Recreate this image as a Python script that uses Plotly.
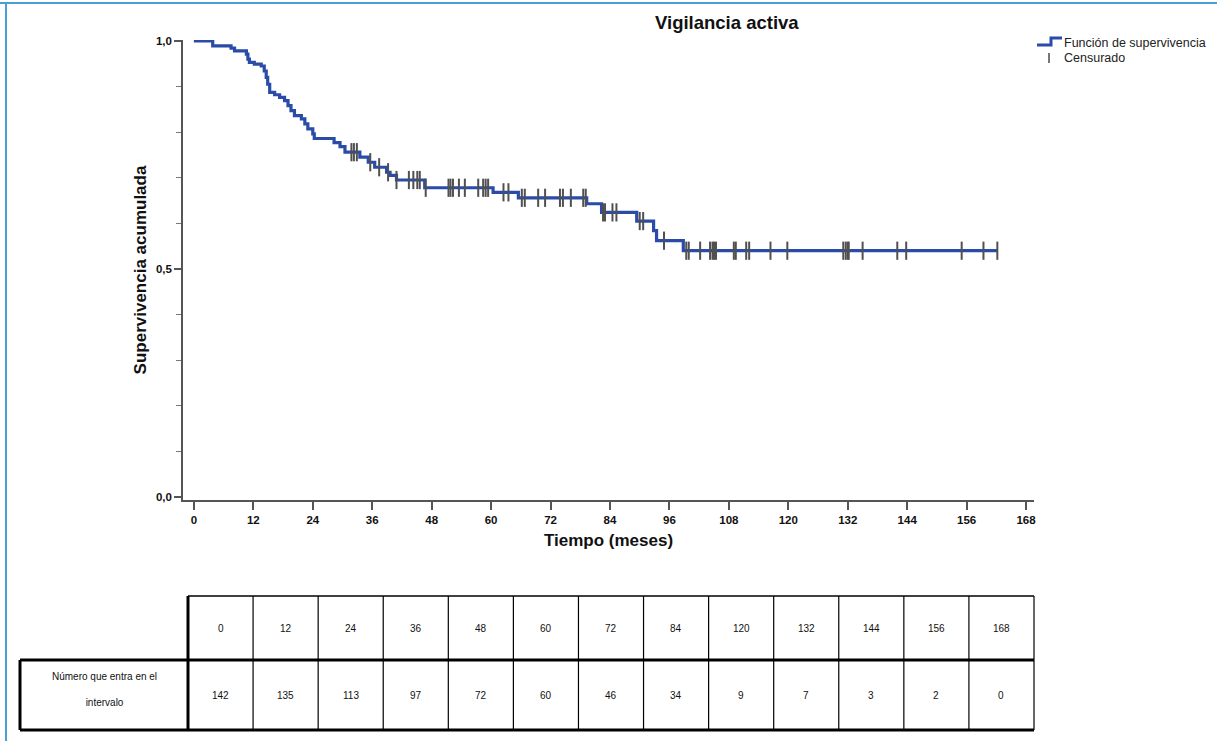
import plotly.graph_objects as go
import numpy as np

# ---------------- data ----------------
event_times = [0, 3.8, 7.5, 8.2, 10.6, 10.9, 11.2, 12.2, 13.6, 14.2, 14.6, 14.9, 15.3,
               16.3, 17.3, 18.3, 19.0, 19.6, 20.3, 21.7, 22.4, 23.0, 24.0, 24.3, 28.3,
               29.5, 30.5, 33.5, 35.2, 36.5, 38.9, 39.6, 40.9, 46.6, 60.4, 65.5, 79.3,
               82.3, 89.4, 92.8, 93.4, 98.8]
survival = [1.0, 0.989, 0.984, 0.978, 0.971, 0.960, 0.953, 0.949, 0.945, 0.934, 0.920,
            0.905, 0.887, 0.882, 0.876, 0.869, 0.858, 0.847, 0.836, 0.829, 0.818, 0.807,
            0.796, 0.786, 0.777, 0.768, 0.756, 0.745, 0.734, 0.723, 0.712, 0.705, 0.695,
            0.678, 0.668, 0.656, 0.643, 0.624, 0.605, 0.584, 0.562, 0.540]
end_time = 162.2

censor_times = [31.8, 32.3, 32.9, 35.6, 37.4, 39.2, 40.9, 43.4, 44.3, 45.1, 45.6, 46.8,
                51.4, 51.8, 52.3, 53.5, 54.7, 57.4, 58.4, 58.9, 59.4, 62.5, 63.5, 66.2,
                66.8, 69.5, 70.9, 73.9, 74.5, 76.1, 78.6, 79.1, 82.6, 83.0, 84.5, 85.3,
                90.0, 90.7, 94.9, 99.4, 99.9, 102.2, 104.2, 104.7, 105.0, 105.4, 109.0,
                109.4, 111.5, 112.1, 116.4, 119.8, 131.1, 131.6, 132.0, 132.2, 135.0,
                142.0, 143.8, 155.0, 159.4, 162.2]

x_ticks = list(range(0, 169, 12))
y_tickvals = [0.0, 0.5, 1.0]
y_ticktext = ["0,0", "0,5", "1,0"]

table_times = ["0", "12", "24", "36", "48", "60", "72", "84", "120", "132", "144", "156", "168"]
table_numbers = ["142", "135", "113", "97", "72", "60", "46", "34", "9", "7", "3", "2", "0"]
row_label = "Número que entra en el<br> <br>intervalo"

title_text = "Vigilancia activa"
legend_labels = ["Función de supervivencia", "Censurado"]

# ---------------- figure ----------------
W, H = 1217, 741
ML, MR, MT, MB = 183, 183, 40, 241
PW, PH = W - ML - MR, H - MT - MB

def px(x):
    return (x - ML) / PW

def py(y):
    return (MT + PH - y) / PH

FONT = "Arial, Liberation Sans, sans-serif"
BLUE = "#2b4ba8"

step_x = event_times + [end_time]
step_y = survival + [survival[-1]]

def surv_at(t):
    idx = np.searchsorted(np.array(event_times), t, side="right") - 1
    return survival[idx]

censor_y = [surv_at(t) for t in censor_times]

fig = go.Figure()
fig.add_trace(go.Scatter(x=step_x, y=step_y, mode="lines", line_shape="hv",
                         line=dict(color=BLUE, width=3.2), showlegend=False,
                         hoverinfo="skip"))
fig.add_trace(go.Scatter(x=censor_times, y=censor_y, mode="markers",
                         marker=dict(symbol="line-ns", size=13,
                                     line=dict(color="#505050", width=2)),
                         showlegend=False, hoverinfo="skip"))

fig.update_layout(
    width=W, height=H,
    margin=dict(l=ML, r=MR, t=MT, b=MB),
    paper_bgcolor="white", plot_bgcolor="white",
    font=dict(family=FONT, color="#111"),
    showlegend=False,
    xaxis=dict(range=[-2.2, 169.6], tickvals=x_ticks, ticks="outside", ticklen=8,
               tickwidth=1.5, tickcolor="#555", showline=True, linecolor="#555",
               linewidth=1.5, showgrid=False, zeroline=False,
               tickfont=dict(size=11.5, family=FONT, color="#111", weight="bold"),
               title=dict(text="<b>Tiempo (meses)</b>", font=dict(size=17, family=FONT, color="#111"),
                          standoff=10)),
    yaxis=dict(range=[-0.0066, 1.002], tickvals=y_tickvals, ticktext=y_ticktext,
               ticks="outside", ticklen=7, tickwidth=1.5, tickcolor="#555",
               showline=True, linecolor="#555", linewidth=1.5, showgrid=False,
               zeroline=False,
               minor=dict(dtick=0.1, tick0=0, ticks="outside", ticklen=5,
                          tickwidth=1.2, tickcolor="#777", showgrid=False),
               tickfont=dict(size=11.5, family=FONT, color="#111", weight="bold"),
               title=dict(text="<b>Supervivencia acumulada</b>",
                          font=dict(size=17, family=FONT, color="#111"), standoff=5)),
)

shapes = []
annotations = []

# title
annotations.append(dict(x=px(727), y=py(22), xref="paper", yref="paper",
                        text="<b>" + title_text + "</b>", showarrow=False,
                        font=dict(size=18.5, family=FONT, color="#111"),
                        xanchor="center", yanchor="middle"))

# legend
shapes.append(dict(type="path", xref="paper", yref="paper",
                   path=f"M {px(1037)} {py(45)} L {px(1051)} {py(45)} L {px(1051)} {py(38)} L {px(1062)} {py(38)}",
                   line=dict(color=BLUE, width=3)))
shapes.append(dict(type="line", xref="paper", yref="paper",
                   x0=px(1049), x1=px(1049), y0=py(53), y1=py(63),
                   line=dict(color="#4a4a4a", width=1.5)))
annotations.append(dict(x=px(1062), y=py(43), xref="paper", yref="paper",
                        text=legend_labels[0], showarrow=False,
                        font=dict(size=12.5, family=FONT, color="#222"),
                        xanchor="left", yanchor="middle"))
annotations.append(dict(x=px(1062), y=py(58), xref="paper", yref="paper",
                        text=legend_labels[1], showarrow=False,
                        font=dict(size=12.5, family=FONT, color="#222"),
                        xanchor="left", yanchor="middle"))

# table
T_left, T_right = 188, 1034
n = len(table_times)
col_w = (T_right - T_left) / n
r1_top, r_mid, r2_bot = 596, 660, 730
lab_left = 20

def hline(x0, x1, y, w):
    shapes.append(dict(type="line", xref="paper", yref="paper", x0=px(x0), x1=px(x1),
                       y0=py(y), y1=py(y), line=dict(color="#000", width=w)))

def vline(x, y0, y1, w):
    shapes.append(dict(type="line", xref="paper", yref="paper", x0=px(x), x1=px(x),
                       y0=py(y0), y1=py(y1), line=dict(color="#000", width=w)))

hline(T_left, T_right, r1_top, 1.5)
hline(lab_left, T_right, r_mid, 3)
hline(lab_left, T_right, r2_bot, 3)
vline(lab_left, r_mid, r2_bot, 3)
vline(T_left, r1_top, r2_bot, 3)
for i in range(1, n + 1):
    xx = T_left + i * col_w
    vline(xx, r1_top, r2_bot, 1.2)

for i, (tt, nn) in enumerate(zip(table_times, table_numbers)):
    cx = T_left + (i + 0.5) * col_w
    annotations.append(dict(x=px(cx), y=py((r1_top + r_mid) / 2), xref="paper", yref="paper",
                            text=tt, showarrow=False, xanchor="center", yanchor="middle",
                            font=dict(size=10, family=FONT, color="#111")))
    annotations.append(dict(x=px(cx), y=py((r_mid + r2_bot) / 2), xref="paper", yref="paper",
                            text=nn, showarrow=False, xanchor="center", yanchor="middle",
                            font=dict(size=10, family=FONT, color="#111")))
annotations.append(dict(x=px((lab_left + T_left) / 2), y=py(689),
                        xref="paper", yref="paper", text=row_label, showarrow=False,
                        xanchor="center", yanchor="middle", align="center",
                        font=dict(size=10, family=FONT, color="#111")))

# page frame lines (light blue)
shapes.append(dict(type="line", xref="paper", yref="paper", x0=px(0), x1=px(W),
                   y0=py(3), y1=py(3), line=dict(color="#4a9fd8", width=2)))
shapes.append(dict(type="line", xref="paper", yref="paper", x0=px(6), x1=px(6),
                   y0=py(2), y1=py(H), line=dict(color="#4a9fd8", width=2)))

fig.update_layout(shapes=shapes, annotations=annotations)
fig.write_html("out.html", config={"displayModeBar": False},
               post_script="document.body.style.margin='0px';document.body.style.overflow='hidden';")
